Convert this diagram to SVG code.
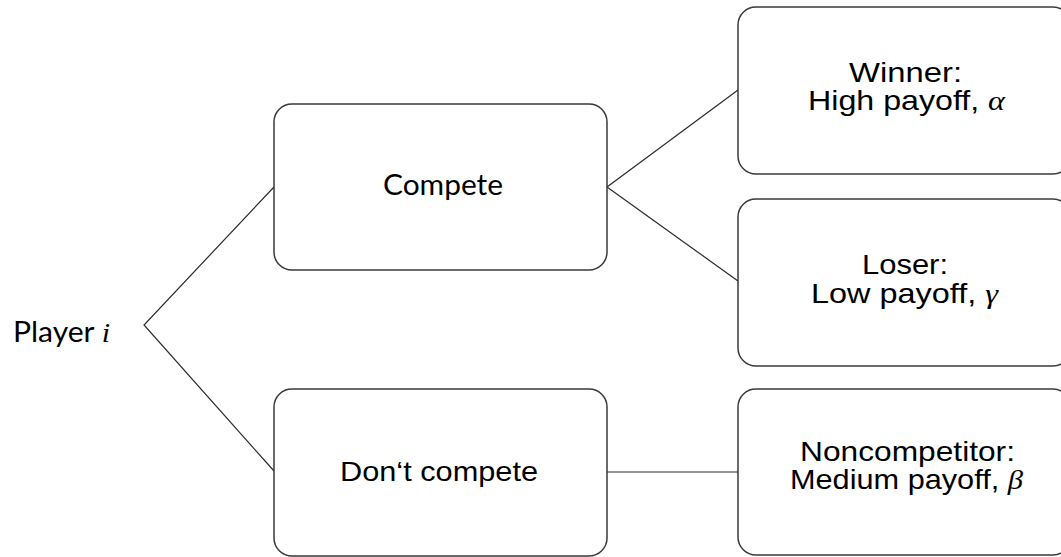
<svg xmlns="http://www.w3.org/2000/svg" width="1061" height="557" viewBox="0 0 1061 557">
  <style>
    .box { fill: #ffffff; stroke: #3a3a3a; stroke-width: 1.5; }
    .edge { fill: none; stroke: #2a2a2a; stroke-width: 1.2; }
    .cal { font-family: Lato, "Open Sans", sans-serif; font-size: 28px; fill: #000; }
    .ari { font-family: "Liberation Sans", Arial, sans-serif; font-size: 28px; fill: #000; }
    .math { font-family: "Liberation Serif", "DejaVu Serif", serif; font-style: italic; }
  </style>
  <rect width="1061" height="557" fill="#ffffff"/>
  <g id="connectors">
    <polyline class="edge" points="274,187 144,325 274,471"/>
    <line class="edge" x1="607" y1="187" x2="738" y2="90"/>
    <line class="edge" x1="607" y1="187" x2="738" y2="281"/>
    <line class="edge" x1="607" y1="472" x2="738" y2="472"/>
  </g>
  <g id="player">
    <text class="cal" x="13" y="341.5" textLength="97" lengthAdjust="spacingAndGlyphs">Player <tspan class="math">i</tspan></text>
  </g>
  <g id="compete">
    <rect class="box" x="274" y="104" width="333" height="166" rx="18"/>
    <text class="cal" x="383" y="194.5" textLength="120" lengthAdjust="spacingAndGlyphs">Compete</text>
  </g>
  <g id="dontcompete">
    <rect class="box" x="274" y="389" width="333" height="167" rx="18"/>
    <text class="ari" x="340" y="481" textLength="198" lengthAdjust="spacingAndGlyphs">Don‘t compete</text>
  </g>
  <g id="winner">
    <rect class="box" x="738" y="7" width="333" height="167" rx="18"/>
    <text class="ari" x="849" y="81.5" textLength="113" lengthAdjust="spacingAndGlyphs">Winner:</text>
    <text class="ari" x="808" y="110" textLength="197" lengthAdjust="spacingAndGlyphs">High payoff, <tspan class="math">α</tspan></text>
  </g>
  <g id="loser">
    <rect class="box" x="738" y="199" width="333" height="167" rx="18"/>
    <text class="ari" x="862" y="274" textLength="86" lengthAdjust="spacingAndGlyphs">Loser:</text>
    <text class="ari" x="811" y="302.5" textLength="187" lengthAdjust="spacingAndGlyphs">Low payoff, <tspan class="math">γ</tspan></text>
  </g>
  <g id="noncompetitor">
    <rect class="box" x="738" y="389" width="333" height="166" rx="18"/>
    <text class="ari" x="800" y="460.5" textLength="215" lengthAdjust="spacingAndGlyphs">Noncompetitor:</text>
    <text class="ari" x="790" y="489" textLength="233" lengthAdjust="spacingAndGlyphs">Medium payoff, <tspan class="math">β</tspan></text>
  </g>
</svg>
